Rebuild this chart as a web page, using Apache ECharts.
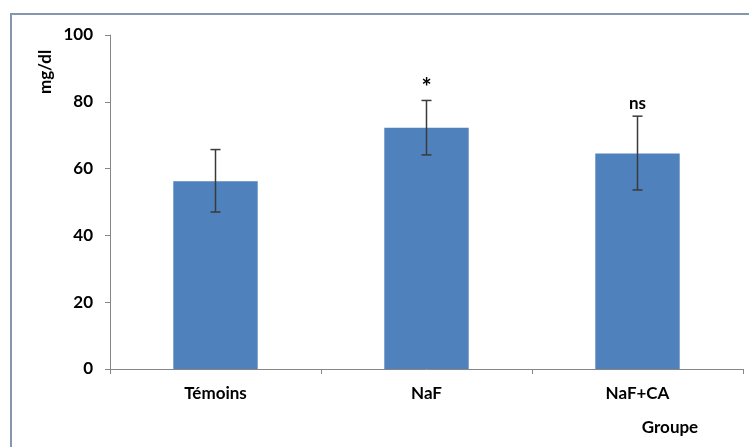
<!DOCTYPE html>
<html>
<head>
<meta charset="utf-8">
<script src="https://cdn.jsdelivr.net/npm/echarts@6/dist/echarts.min.js"></script>
<style>
  html, body { margin: 0; padding: 0; background: #fff; }
  #chart { width: 749px; height: 447px; }
</style>
</head>
<body>
<div id="chart"></div>
<script>
// données
var groupes = ['Témoins', 'NaF', 'NaF+CA'];
var moyennes = [56.2, 72.2, 64.5];
var erreurHaut = [65.7, 80.4, 75.7];
var erreurBas = [47.0, 64.1, 53.6];
var signif = ['', '*', 'ns'];
var yTicks = [0, 20, 40, 60, 80, 100];

var police = 'Lato, "Open Sans", sans-serif';

var chart = echarts.init(document.getElementById('chart'));

var errData = groupes.map(function (g, i) {
  return [i, erreurBas[i], erreurHaut[i], signif[i]];
});

chart.setOption({
  animation: false,
  grid: { left: 110, right: 6, top: 35, bottom: 78 },
  xAxis: {
    type: 'category',
    data: groupes,
    axisLine: { lineStyle: { color: '#868686', width: 1 } },
    axisTick: { show: true, length: 5, lineStyle: { color: '#868686' } },
    axisLabel: { color: '#000', fontFamily: police, fontWeight: 'bold', fontSize: 17, margin: 16 }
  },
  yAxis: {
    type: 'value',
    min: yTicks[0],
    max: yTicks[yTicks.length - 1],
    interval: 20,
    splitLine: { show: false },
    axisLine: { show: true, lineStyle: { color: '#868686', width: 1 } },
    axisTick: { show: true, length: 5, lineStyle: { color: '#868686' } },
    axisLabel: { color: '#000', fontFamily: police, fontWeight: 'bold', fontSize: 17, margin: 17 }
  },
  graphic: [
    {
      type: 'rect',
      shape: { x: 11, y: 14, width: 900, height: 600 },
      style: { fill: 'none', stroke: '#8696ae', lineWidth: 2 },
      silent: true
    },
    {
      type: 'text',
      x: 46, y: 72,
      rotation: Math.PI / 2,
      style: {
        text: 'mg/dl', fill: '#000', font: 'bold 17px ' + police,
        textAlign: 'center', textVerticalAlign: 'middle'
      }
    },
    {
      type: 'text',
      x: 670, y: 428,
      style: {
        text: 'Groupe', fill: '#000', font: 'bold 17px ' + police,
        textAlign: 'center', textVerticalAlign: 'middle'
      }
    }
  ],
  series: [
    {
      type: 'bar',
      data: moyennes,
      barWidth: '40%',
      itemStyle: { color: '#4f81bd' }
    },
    {
      type: 'custom',
      data: errData,
      z: 10,
      renderItem: function (params, api) {
        var x = api.coord([api.value(0), 0])[0];
        var yb = api.coord([api.value(0), api.value(1)])[1];
        var yh = api.coord([api.value(0), api.value(2)])[1];
        var cap = 5;
        var st = { stroke: '#3a3a3a', lineWidth: 1.5 };
        var children = [
          { type: 'line', shape: { x1: x, y1: yh, x2: x, y2: yb }, style: st },
          { type: 'line', shape: { x1: x - cap, y1: yh, x2: x + cap, y2: yh }, style: st },
          { type: 'line', shape: { x1: x - cap, y1: yb, x2: x + cap, y2: yb }, style: st }
        ];
        var txt = signif[params.dataIndex];
        if (txt) {
          var etoile = txt === '*';
          children.push({
            type: 'text',
            x: x, y: yh - (etoile ? 12 : 13),
            style: {
              text: txt, fill: '#000',
              font: 'bold ' + (etoile ? 24 : 17) + 'px ' + police,
              textAlign: 'center', textVerticalAlign: 'middle'
            }
          });
        }
        return { type: 'group', children: children };
      }
    }
  ]
});
</script>
</body>
</html>
